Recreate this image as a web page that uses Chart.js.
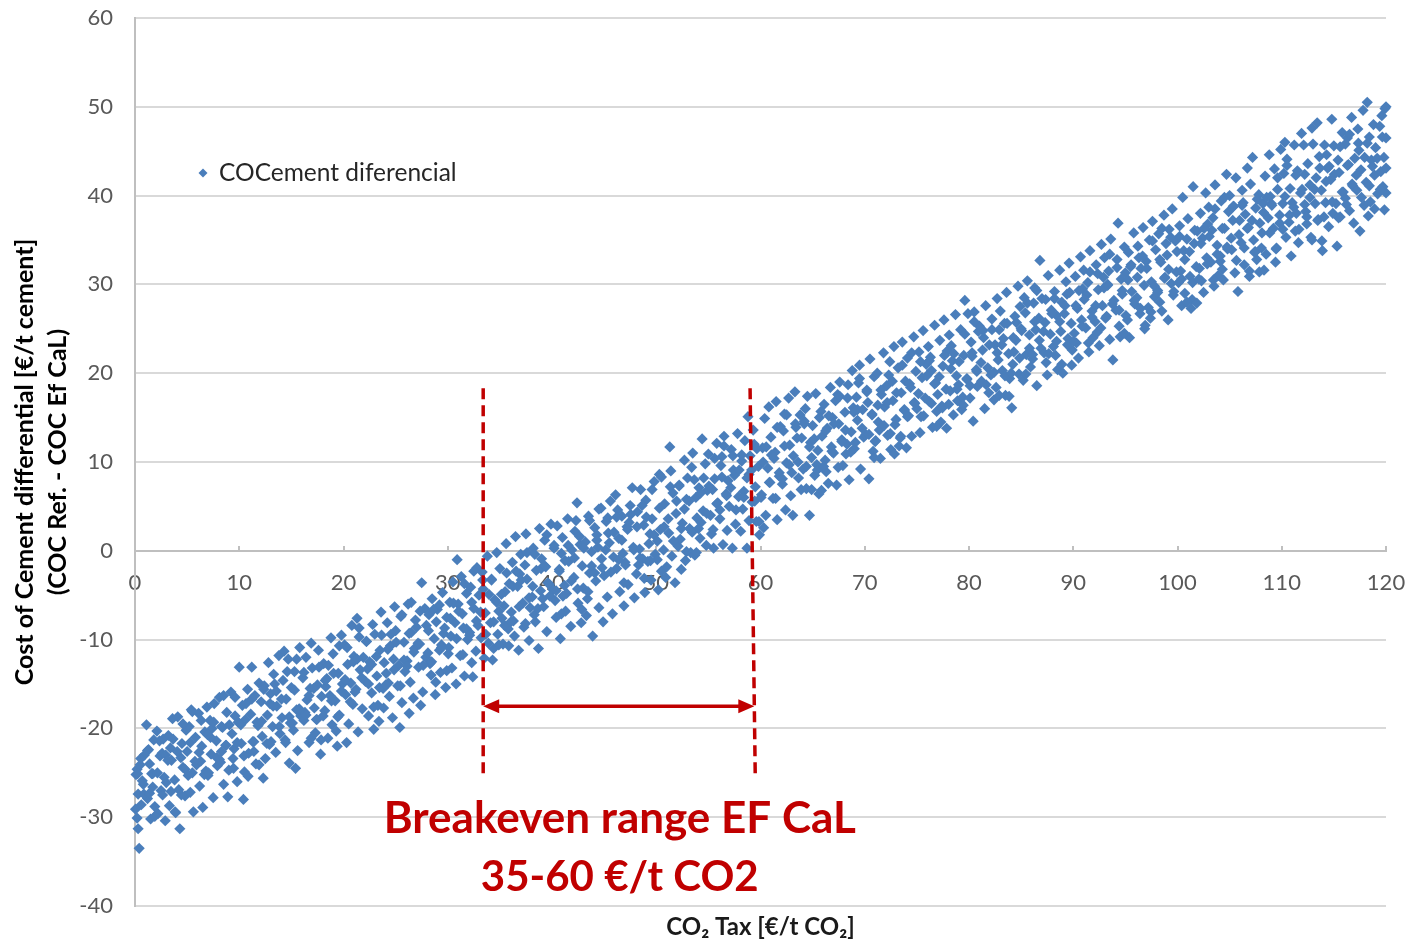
<!DOCTYPE html>
<html>
<head>
<meta charset="utf-8">
<script src="https://cdn.jsdelivr.net/npm/chart.js@4/dist/chart.umd.min.js"></script>
<style>
html,body{margin:0;padding:0;background:#fff;}
canvas{display:block;}
</style>
</head>
<body>
<canvas id="c" width="1405" height="942"></canvas>
<script>
// ---- tick labels / axis ranges ----
const xTickValues = [0,10,20,30,40,50,60,70,80,90,100,110,120];
const yTickValues = [-40,-30,-20,-10,0,10,20,30,40,50,60];
const seriesName = 'COCement diferencial';
const xTitle = 'CO\u2082 Tax [\u20AC/t CO\u2082]';
const yTitle = ['Cost of Cement differential [\u20AC/t cement]', '(COC Ref. - COC Ef CaL)'];
const noteLines = ['Breakeven range EF CaL', '35-60 \u20AC/t CO2'];

// ---- annotation values (data units) ----
const rangeLeftX = [33.4, 33.4];     // top, bottom
const rangeRightX = [59.0, 59.5];    // top, bottom
const rangeLineY = [18.3, -25.7];    // top, bottom
const arrowY = -17.5;
const noteCenterX = 46.5;
const noteBaselineY = [-31.8, -38.3];

// ---- scatter values [CO2 tax, cost differential] ----
const pts0to20 = [
[0.1,-25.2],[0.2,-30.1],[0.3,-27.4],[0.4,-33.5],[0.5,-24.1],[0.6,-28.6],[0.8,-26.3],[0.9,-23.0],[0.3,-31.3],[0.7,-25.9],[0.2,-24.6],
[1.1,-19.6],[1.2,-27.9],[1.3,-22.4],[1.5,-30.2],[1.6,-25.1],[1.8,-21.3],[1.9,-28.8],[1.4,-24.0],[1.7,-26.6],
[2.1,-20.3],[2.2,-29.6],[2.4,-23.1],[2.5,-27.0],[2.7,-21.2],[2.8,-25.5],[2.9,-30.4],[2.6,-22.8],
[3.0,-26.1],[3.2,-20.8],[3.3,-28.7],[3.5,-23.6],[3.6,-18.9],[3.8,-25.8],[3.9,-29.5],[3.4,-22.2],
[4.1,-18.7],[4.2,-26.9],[4.3,-31.3],[4.5,-21.7],[4.6,-24.4],[4.8,-27.6],[4.9,-20.2],[4.4,-23.3],
[5.0,-22.6],[5.2,-19.8],[5.3,-27.2],[5.5,-25.0],[5.6,-29.4],[5.8,-21.0],[5.9,-24.1],[5.4,-17.9],
[6.1,-18.3],[6.2,-26.5],[6.4,-22.0],[6.5,-28.9],[6.7,-20.4],[6.8,-24.8],[6.9,-17.6],[6.3,-23.7],
[7.0,-25.3],[7.2,-19.1],[7.3,-22.9],[7.5,-27.8],[7.6,-17.2],[7.8,-21.4],[7.9,-24.2],[7.4,-20.0],
[8.1,-16.5],[8.2,-23.8],[8.4,-19.9],[8.5,-26.3],[8.7,-21.9],[8.8,-18.2],[8.9,-27.7],[8.3,-22.6],
[9.0,-24.7],[9.2,-15.9],[9.3,-20.6],[9.5,-22.3],[9.6,-18.6],[9.8,-26.0],[9.9,-19.3],[9.4,-23.4],
[10.0,-13.1],[10.2,-21.7],[10.3,-17.4],[10.5,-24.9],[10.6,-19.0],[10.8,-15.6],[10.9,-22.8],[10.4,-28.0],
[11.2,-13.1],[11.1,-18.4],[11.3,-21.5],[11.5,-16.3],[11.6,-24.0],[11.8,-19.7],[11.9,-14.9],[11.4,-22.6],
[12.1,-17.0],[12.2,-20.9],[12.4,-15.2],[12.5,-23.4],[12.7,-18.5],[12.8,-12.6],[12.9,-21.8],[12.3,-25.6],
[13.0,-16.1],[13.2,-19.8],[13.3,-13.9],[13.5,-22.7],[13.6,-17.5],[13.8,-11.8],[13.9,-20.6],[13.4,-15.0],
[14.1,-18.8],[14.2,-14.6],[14.4,-21.3],[14.5,-16.7],[14.7,-12.2],[14.8,-23.9],[14.9,-19.4],[14.3,-11.3],
[15.0,-15.4],[15.2,-20.2],[15.3,-13.6],[15.5,-17.9],[15.6,-22.5],[15.8,-10.9],[15.9,-18.6],[15.4,-24.5],
[16.1,-14.3],[16.2,-19.1],[16.4,-12.0],[16.5,-16.8],[16.7,-21.6],[16.8,-15.5],[16.9,-10.4],[16.3,-18.2],
[17.0,-13.2],[17.2,-17.7],[17.3,-20.5],[17.5,-15.1],[17.6,-11.2],[17.8,-22.9],[17.9,-16.4],[17.4,-19.0],
[18.1,-12.7],[18.2,-18.0],[18.4,-14.4],[18.5,-21.1],[18.7,-16.3],[18.8,-9.8],[18.9,-19.6],[18.3,-15.3],
[19.0,-11.6],[19.2,-16.9],[19.3,-20.3],[19.5,-13.8],[19.6,-18.5],[19.8,-9.5],[19.9,-15.0],[19.4,-22.0],
[0.05,-29.1],[0.25,-25.1],[0.55,-23.4],[0.85,-27.4],[1.2,-22.5],[1.4,-27.3],[1.7,-25.1],[1.9,-29.9],
[2.15,-25.0],[2.35,-21.4],[2.65,-27.5],[2.95,-23.0],[3.15,-23.6],[3.45,-27.1],[3.65,-21.2],[3.85,-29.4],
[4.05,-22.6],[4.45,-27.5],[4.6,-19.5],[4.8,-24.6],[5.1,-25.3],[5.3,-21.6],[5.5,-18.1],[5.75,-23.7],
[6.15,-22.7],[6.35,-19.1],[6.65,-25.2],[6.95,-20.7],[7.05,-25.0],[7.25,-21.0],[7.55,-19.3],[7.85,-23.3],
[8.1,-23.5],[8.3,-19.8],[8.5,-16.3],[8.75,-21.9],[9.05,-19.6],[9.45,-24.5],[9.6,-16.5],[9.8,-21.6],
[10.15,-19.6],[10.45,-23.1],[10.65,-17.2],[10.85,-25.4],[11.2,-16.7],[11.4,-21.5],[11.7,-19.3],[11.9,-24.1],
[12.15,-19.2],[12.35,-15.6],[12.65,-21.7],[12.95,-17.2],[13.05,-21.5],[13.25,-17.5],[13.55,-15.8],[13.85,-19.8],
[14.05,-16.7],[14.45,-21.6],[14.6,-13.6],[14.8,-18.7],[15.1,-19.4],[15.3,-15.7],[15.5,-12.2],[15.75,-17.8],
[16.2,-13.7],[16.4,-18.5],[16.7,-16.3],[16.9,-21.1],[17.15,-15.5],[17.45,-19.0],[17.65,-13.1],[17.85,-21.3],
[18.05,-18.6],[18.25,-14.6],[18.55,-12.9],[18.85,-16.9],[19.05,-13.8],[19.45,-18.7],[19.6,-10.7],[19.8,-15.8]
];
const pts20to40 = [
[20.1,-10.6],[20.2,-16.2],[20.4,-12.8],[20.5,-19.5],[20.7,-14.9],[20.8,-8.4],[20.9,-17.3],[20.3,-21.6],
[21.0,-11.9],[21.2,-15.6],[21.4,-20.4],[21.5,-9.7],[21.6,-13.4],[21.8,-17.8],[21.9,-12.0],[21.3,-7.6],
[22.1,-14.7],[22.2,-10.2],[22.4,-18.6],[22.5,-12.5],[22.7,-16.0],[22.8,-8.3],[22.9,-20.1],[22.3,-13.3],
[23.0,-9.4],[23.2,-14.1],[23.3,-17.4],[23.5,-11.2],[23.6,-6.9],[23.8,-15.5],[23.9,-12.6],[23.4,-19.2],
[24.1,-13.8],[24.2,-8.1],[24.4,-16.4],[24.5,-10.7],[24.7,-18.8],[24.8,-12.2],[24.9,-6.3],[24.3,-14.9],
[25.0,-9.0],[25.2,-15.2],[25.3,-12.9],[25.5,-7.4],[25.6,-17.1],[25.8,-10.3],[25.9,-13.6],[25.4,-19.9],
[26.1,-12.4],[26.2,-6.0],[26.4,-14.8],[26.5,-9.2],[26.7,-16.6],[26.8,-11.0],[26.9,-7.8],[26.3,-18.3],
[27.0,-8.6],[27.2,-13.1],[27.5,-3.6],[27.6,-15.9],[27.3,-10.5],[27.8,-6.5],[27.9,-12.0],[27.4,-17.4],
[28.1,-11.5],[28.2,-7.2],[28.4,-14.0],[28.5,-5.4],[28.7,-9.9],[28.8,-16.2],[28.9,-8.0],[28.3,-12.7],
[29.0,-6.6],[29.2,-11.2],[29.3,-13.7],[29.5,-4.7],[29.6,-9.3],[29.8,-15.4],[29.9,-7.5],[29.4,-10.6],
[30.1,-10.9],[30.2,-5.8],[30.4,-13.2],[30.5,-3.5],[30.7,-8.1],[30.9,-1.0],[30.8,-15.0],[30.3,-9.6],
[31.0,-6.0],[31.2,-11.8],[31.3,-2.9],[31.5,-8.7],[31.6,-14.1],[31.8,-4.8],[31.9,-10.0],[31.4,-7.1],
[32.1,-9.2],[32.2,-4.1],[32.4,-14.2],[32.5,-6.5],[32.7,-11.3],[32.8,-1.9],[32.9,-8.4],[32.3,-12.6],
[33.0,-5.0],[33.2,-9.8],[33.3,-2.4],[33.5,-12.1],[33.6,-7.0],[33.8,-0.6],[33.9,-10.4],[33.4,-4.3],
[34.1,-8.1],[34.2,-3.3],[34.4,-11.0],[34.5,-5.5],[34.7,-0.2],[34.8,-9.4],[34.9,-6.8],[34.3,-12.3],
[35.0,-2.0],[35.2,-7.6],[35.3,-10.5],[35.5,-4.6],[35.6,0.8],[35.8,-8.8],[35.9,-3.7],[35.4,-6.2],
[36.1,-6.9],[36.2,-1.3],[36.4,-9.6],[36.5,1.6],[36.7,-4.0],[36.8,-11.2],[36.9,-2.6],[36.3,-7.9],
[37.0,-0.4],[37.2,-5.9],[37.3,-8.6],[37.5,1.9],[37.6,-3.2],[37.8,-10.1],[37.9,-6.4],[37.4,-1.6],
[38.1,-5.2],[38.2,0.3],[38.4,-8.0],[38.5,-2.2],[38.7,-11.0],[38.8,2.5],[38.9,-4.5],[38.3,-7.2],
[39.0,-0.9],[39.2,-6.3],[39.3,1.2],[39.5,-9.1],[39.6,-3.6],[39.8,-5.1],[39.9,3.0],[39.4,-1.8],
[20.15,-14.5],[20.35,-10.9],[20.65,-17.0],[20.95,-12.5],[21.1,-15.9],[21.3,-12.2],[21.5,-8.7],[21.75,-14.3],
[22.2,-10.2],[22.4,-15.0],[22.7,-12.8],[22.9,-17.6],[23.15,-11.9],[23.45,-15.4],[23.65,-9.5],[23.85,-17.7],
[24.05,-15.1],[24.25,-11.1],[24.55,-9.4],[24.85,-13.4],[25.05,-10.3],[25.45,-15.2],[25.6,-7.2],[25.8,-12.3],
[26.1,-13.0],[26.3,-9.3],[26.5,-5.8],[26.75,-11.4],[27.15,-10.4],[27.35,-6.8],[27.65,-12.9],[27.95,-8.4],
[28.15,-9.0],[28.45,-12.5],[28.65,-6.6],[28.85,-14.8],[29.2,-6.1],[29.4,-10.9],[29.7,-8.7],[29.9,-13.5],
[30.05,-11.6],[30.25,-7.6],[30.55,-5.9],[30.85,-9.9],[31.05,-6.8],[31.45,-11.7],[31.6,-3.7],[31.8,-8.8],
[32.1,-9.5],[32.3,-5.8],[32.5,-2.3],[32.75,-7.9],[33.15,-6.9],[33.35,-3.3],[33.65,-9.4],[33.95,-4.9],
[34.2,-3.2],[34.4,-8.0],[34.7,-5.8],[34.9,-10.6],[35.15,-4.9],[35.45,-8.4],[35.65,-2.5],[35.85,-10.7],
[36.05,-8.0],[36.25,-4.0],[36.55,-2.3],[36.85,-6.3],[37.05,-3.3],[37.45,-8.2],[37.6,-0.2],[37.8,-5.3],
[38.15,-4.0],[38.35,-0.4],[38.65,-6.5],[38.95,-2.0],[39.1,-5.4],[39.3,-1.7],[39.5,1.8],[39.75,-3.8]
];
const pts40to60 = [
[40.1,-4.4],[40.2,0.6],[40.4,-7.5],[40.5,2.8],[40.7,-2.1],[40.8,-9.9],[40.9,-0.3],[40.3,-5.6],
[41.0,1.5],[41.2,-3.9],[41.3,-6.8],[41.5,3.6],[41.6,-1.2],[41.8,-8.5],[41.9,0.1],[41.4,-4.8],
[42.1,-3.0],[42.2,2.2],[42.4,5.4],[42.5,-5.9],[42.7,0.7],[42.8,-8.1],[42.9,-1.7],[42.3,3.4],
[43.0,-4.2],[43.2,1.0],[43.3,-7.3],[43.5,3.9],[43.6,-2.5],[43.8,-0.1],[43.9,-9.6],[43.4,-5.4],
[44.1,2.6],[44.2,-3.4],[44.4,0.4],[44.5,-6.4],[44.7,4.8],[44.8,-1.9],[44.9,-8.0],[44.3,1.8],
[45.0,-2.8],[45.2,3.3],[45.3,-5.2],[45.5,0.9],[45.6,5.6],[45.8,-7.1],[45.9,-0.7],[45.4,2.0],
[46.1,6.3],[46.2,-2.0],[46.4,1.4],[46.5,-4.6],[46.7,3.9],[46.8,-0.3],[46.9,-6.2],[46.3,4.6],
[47.0,-1.3],[47.2,2.7],[47.3,-3.8],[47.5,5.1],[47.7,7.1],[47.8,0.4],[47.9,-5.3],[47.4,3.2],
[48.1,-2.6],[48.2,4.4],[48.4,0.2],[48.5,6.9],[48.7,-0.9],[48.8,2.9],[48.9,-4.7],[48.3,-1.6],
[49.0,5.7],[49.2,-1.2],[49.3,0.8],[49.5,-3.3],[49.6,3.6],[49.8,7.8],[49.9,-0.4],[49.4,1.9],
[50.1,-1.0],[50.2,-4.4],[50.4,2.4],[50.5,-2.3],[50.7,0.1],[50.8,5.3],[50.9,-3.0],[50.3,8.6],
[51.0,-1.8],[51.3,11.7],[51.2,2.0],[51.5,-0.6],[51.6,6.5],[51.8,-3.6],[51.9,4.2],[51.4,9.0],
[52.1,0.5],[52.2,7.4],[52.4,-2.1],[52.5,3.1],[52.7,10.2],[52.8,-1.1],[52.9,5.8],[52.3,1.3],
[53.0,8.2],[53.2,2.5],[53.3,-0.2],[53.5,11.0],[53.7,-0.5],[53.8,6.0],[53.9,3.7],[53.4,9.4],
[54.1,7.1],[54.2,1.4],[54.4,12.6],[54.5,4.5],[54.7,9.8],[54.8,0.6],[54.9,6.8],[54.3,3.2],
[55.0,10.9],[55.2,4.0],[55.3,1.9],[55.5,0.3],[55.6,8.1],[55.8,12.1],[55.9,5.4],[55.4,6.9],
[56.1,3.6],[56.2,9.6],[56.4,0.7],[56.5,12.9],[56.7,6.4],[56.8,2.3],[56.9,7.9],[56.3,10.6],
[57.0,5.0],[57.2,11.4],[57.3,0.3],[57.5,8.5],[57.6,3.0],[57.8,13.2],[57.9,6.1],[57.4,9.1],
[58.1,2.2],[58.2,10.1],[58.4,6.7],[58.5,12.4],[58.7,0.3],[58.8,15.1],[58.9,8.6],[58.3,4.7],
[59.0,10.7],[59.2,5.5],[59.3,13.6],[59.5,7.2],[59.6,3.3],[59.8,9.5],[59.9,1.8],[59.4,12.0],
[40.2,0.3],[40.4,-4.5],[40.7,-2.3],[40.9,-7.1],[41.05,-5.1],[41.25,-1.1],[41.55,0.6],[41.85,-3.4],
[42.15,-0.8],[42.45,-4.3],[42.65,1.6],[42.85,-6.6],[43.05,0.3],[43.45,-4.6],[43.6,3.4],[43.8,-1.7],
[44.1,-2.5],[44.3,1.2],[44.5,4.7],[44.75,-0.9],[45.15,0.1],[45.35,3.7],[45.65,-2.4],[45.95,2.1],
[46.2,3.8],[46.4,-1.0],[46.7,1.2],[46.9,-3.6],[47.05,-1.6],[47.25,2.4],[47.55,4.1],[47.85,0.1],
[48.15,2.7],[48.45,-0.8],[48.65,5.1],[48.85,-3.1],[49.05,3.8],[49.45,-1.1],[49.6,6.9],[49.8,1.8],
[50.1,1.1],[50.3,4.8],[50.5,8.3],[50.75,2.7],[51.15,3.6],[51.35,7.2],[51.65,1.1],[51.95,5.6],
[52.2,7.3],[52.4,2.5],[52.7,4.7],[52.9,-0.1],[53.15,5.6],[53.45,2.1],[53.65,8.0],[53.85,-0.2],
[54.05,2.5],[54.25,6.5],[54.55,8.2],[54.85,4.2],[55.05,7.3],[55.45,2.4],[55.6,10.4],[55.8,5.3],
[56.1,4.6],[56.3,8.3],[56.5,11.8],[56.75,6.2],[57.15,7.1],[57.35,10.7],[57.65,4.6],[57.95,9.1],
[58.2,10.8],[58.4,6.0],[58.7,8.2],[58.9,3.4],[59.15,9.1],[59.45,5.6],[59.65,11.5],[59.85,3.3]
];
const pts60to80 = [
[60.1,6.3],[60.2,11.6],[60.4,14.9],[60.5,4.0],[60.7,9.3],[60.8,16.2],[60.9,7.7],[60.3,2.6],
[61.0,12.8],[61.2,5.9],[61.3,10.4],[61.5,16.8],[61.6,3.5],[61.8,8.4],[61.9,14.0],[61.4,11.1],
[62.1,7.5],[62.2,13.5],[62.4,4.6],[62.5,9.9],[62.7,17.2],[62.8,11.9],[62.9,6.2],[62.3,15.4],
[63.1,4.0],[63.3,17.9],[63.0,8.8],[63.5,12.7],[63.6,10.0],[63.8,15.3],[63.9,6.9],[63.4,13.9],
[64.1,9.2],[64.2,14.6],[64.4,7.0],[64.5,17.4],[64.7,4.0],[64.8,12.2],[64.9,10.5],[64.3,16.0],
[65.0,14.1],[65.2,8.5],[65.3,17.7],[65.5,11.3],[65.6,6.4],[65.8,15.7],[65.9,12.9],[65.4,9.7],
[66.1,16.5],[66.2,10.2],[66.4,13.8],[66.5,7.6],[66.7,18.4],[66.8,11.7],[66.9,15.0],[66.3,8.9],
[67.0,11.0],[67.2,16.9],[67.3,7.4],[67.5,14.3],[67.6,19.0],[67.8,12.5],[67.9,9.6],[67.4,17.6],
[68.1,15.6],[68.2,10.9],[68.4,18.7],[68.5,8.0],[68.7,13.4],[68.8,20.3],[68.9,16.1],[68.3,12.0],
[69.0,11.5],[69.2,17.3],[69.3,14.7],[69.5,20.9],[69.6,9.2],[69.8,15.9],[69.9,12.8],[69.4,18.9],
[70.1,13.1],[70.2,18.1],[70.4,8.1],[70.5,21.6],[70.7,15.4],[70.8,11.2],[70.9,19.6],[70.3,16.7],
[71.0,12.3],[71.2,20.0],[71.3,14.5],[71.5,10.4],[71.6,17.6],[71.8,22.3],[71.9,16.2],[71.4,13.6],
[72.1,18.6],[72.2,13.0],[72.4,21.3],[72.5,11.4],[72.7,16.9],[72.8,23.0],[72.9,14.2],[72.3,19.8],
[73.0,14.8],[73.2,20.6],[73.3,11.8],[73.5,17.8],[73.6,23.5],[73.8,15.9],[73.9,19.1],[73.4,12.7],
[74.1,21.7],[74.2,15.2],[74.4,18.4],[74.5,12.9],[74.7,24.1],[74.8,16.6],[74.9,20.2],[74.0,11.6],
[75.0,16.0],[75.2,22.4],[75.3,13.3],[75.5,19.5],[75.6,24.8],[75.8,17.2],[75.9,21.0],[75.4,15.1],
[76.1,23.0],[76.2,16.8],[76.4,20.3],[76.5,13.9],[76.7,25.4],[76.8,18.9],[76.9,15.7],[76.3,21.8],
[77.0,17.6],[77.2,23.7],[77.3,14.5],[77.5,20.8],[77.6,26.0],[77.8,18.2],[77.9,22.5],[77.4,16.3],
[78.1,24.3],[78.2,18.0],[78.4,21.4],[78.5,15.3],[78.7,26.6],[78.8,19.7],[78.9,16.9],[78.3,23.1],
[79.0,18.7],[79.2,24.9],[79.3,15.9],[79.6,28.2],[79.5,22.0],[79.8,19.4],[79.9,26.7],[79.4,17.3],
[60.05,6.0],[60.25,10.0],[60.55,11.7],[60.85,7.7],[61.05,10.8],[61.45,5.9],[61.6,13.9],[61.8,8.8],
[62.1,8.1],[62.3,11.8],[62.5,15.3],[62.75,9.7],[63.15,10.7],[63.35,14.3],[63.65,8.2],[63.95,12.7],
[64.2,14.3],[64.4,9.5],[64.7,11.7],[64.9,6.9],[65.15,12.6],[65.45,9.1],[65.65,15.0],[65.85,6.8],
[66.05,9.5],[66.25,13.5],[66.55,15.2],[66.85,11.2],[67.05,14.3],[67.45,9.4],[67.6,17.4],[67.8,12.3],
[68.15,13.6],[68.35,17.2],[68.65,11.1],[68.95,15.6],[69.1,12.2],[69.3,15.9],[69.5,19.4],[69.75,13.8],
[70.2,17.9],[70.4,13.1],[70.7,15.3],[70.9,10.5],[71.05,12.4],[71.25,16.4],[71.55,18.1],[71.85,14.1],
[72.15,16.7],[72.45,13.2],[72.65,19.1],[72.85,10.9],[73.05,17.8],[73.45,12.9],[73.6,20.9],[73.8,15.8],
[74.1,15.1],[74.3,18.8],[74.5,22.3],[74.75,16.7],[75.15,17.7],[75.35,21.3],[75.65,15.2],[75.95,19.7],
[76.2,21.4],[76.4,16.6],[76.7,18.8],[76.9,14.0],[77.15,19.6],[77.45,16.1],[77.65,22.0],[77.85,13.8],
[78.05,16.5],[78.25,20.5],[78.55,22.2],[78.85,18.2],[79.05,21.3],[79.45,16.4],[79.6,24.4],[79.8,19.3]
];
const pts80to100 = [
[80.1,17.2],[80.2,23.5],[80.4,14.6],[80.5,26.9],[80.7,20.4],[80.8,18.5],[80.9,24.7],[80.3,21.9],
[81.0,25.3],[81.2,19.1],[81.3,22.6],[81.5,16.0],[81.6,27.6],[81.8,20.6],[81.9,17.8],[81.4,24.0],
[82.1,19.8],[82.2,26.1],[82.4,17.0],[82.5,23.2],[82.7,28.4],[82.8,21.5],[82.9,24.9],[82.6,18.4],
[83.0,27.0],[83.2,20.3],[83.3,23.9],[83.5,17.5],[83.6,29.1],[83.8,22.2],[83.9,19.4],[83.4,25.6],
[84.1,16.1],[84.2,21.0],[84.4,26.4],[84.5,23.7],[84.7,29.8],[84.8,19.9],[84.9,27.5],[84.3,22.4],
[85.0,25.0],[85.2,19.2],[85.3,28.5],[85.5,22.1],[85.6,30.4],[85.8,24.3],[85.9,20.7],[85.4,26.8],
[86.1,21.6],[86.2,27.9],[86.4,24.9],[86.5,18.6],[86.8,32.7],[86.7,26.2],[86.9,22.8],[86.3,29.6],
[87.0,28.4],[87.2,22.3],[87.3,25.7],[87.5,19.8],[87.6,31.0],[87.8,24.4],[87.9,27.1],[87.4,21.2],
[88.1,23.0],[88.2,29.2],[88.4,26.5],[88.5,20.4],[88.7,31.6],[88.8,24.7],[88.9,28.0],[88.3,22.0],
[89.0,20.0],[89.2,27.6],[89.3,30.3],[89.5,23.9],[89.6,32.4],[89.8,25.6],[89.9,22.6],[89.4,28.9],
[90.1,24.5],[90.2,30.9],[90.4,27.3],[90.5,21.7],[90.7,33.1],[90.8,26.0],[90.9,29.5],[90.3,23.4],
[91.0,31.6],[91.2,25.1],[91.3,28.8],[91.5,22.4],[91.6,33.8],[91.8,27.0],[91.9,24.0],[91.4,30.2],
[92.1,25.8],[92.2,32.2],[92.4,29.4],[92.5,23.1],[92.7,34.5],[92.8,27.6],[92.9,30.8],[92.3,24.6],
[93.0,33.0],[93.2,26.4],[93.3,30.0],[93.5,23.8],[93.8,21.5],[93.6,35.1],[93.9,28.2],[93.4,31.5],
[94.1,27.1],[94.3,36.9],[94.2,32.8],[94.4,25.3],[94.6,30.6],[94.7,28.9],[94.9,34.2],[94.5,24.1],
[95.0,31.3],[95.2,26.0],[95.4,24.0],[95.3,33.6],[95.6,29.2],[95.8,35.8],[95.9,27.8],[95.5,32.0],
[96.1,28.5],[96.2,34.3],[96.4,26.7],[96.5,31.8],[96.7,36.4],[96.8,29.9],[96.9,25.4],[96.3,33.0],
[97.0,32.6],[97.2,27.4],[97.3,35.0],[97.5,30.3],[97.6,37.1],[97.8,28.6],[97.9,33.9],[97.4,26.2],
[98.1,29.3],[98.2,35.7],[98.4,32.5],[98.5,27.0],[98.7,37.8],[98.8,30.8],[98.9,34.6],[98.3,28.0],
[99.1,26.0],[99.0,33.3],[99.2,36.2],[99.4,30.1],[99.5,38.5],[99.6,28.8],[99.8,34.9],[99.9,31.4],
[80.1,18.6],[80.3,22.3],[80.5,25.8],[80.75,20.2],[81.15,21.2],[81.35,24.8],[81.65,18.7],[81.95,23.2],
[82.2,24.9],[82.4,20.1],[82.7,22.3],[82.9,17.5],[83.15,23.2],[83.45,19.7],[83.65,25.6],[83.85,17.4],
[84.05,20.0],[84.25,24.0],[84.55,25.7],[84.85,21.7],[85.05,24.8],[85.45,19.9],[85.6,27.9],[85.8,22.8],
[86.1,22.1],[86.3,25.8],[86.5,29.3],[86.75,23.7],[87.15,24.7],[87.35,28.3],[87.65,22.2],[87.95,26.7],
[88.2,28.4],[88.4,23.6],[88.7,25.8],[88.9,21.0],[89.15,26.7],[89.45,23.2],[89.65,29.1],[89.85,20.9],
[90.05,23.6],[90.25,27.6],[90.55,29.3],[90.85,25.3],[91.05,28.3],[91.45,23.4],[91.6,31.4],[91.8,26.3],
[92.15,27.6],[92.35,31.2],[92.65,25.1],[92.95,29.6],[93.1,26.2],[93.3,29.9],[93.5,33.4],[93.75,27.8],
[94.2,31.9],[94.4,27.1],[94.7,29.3],[94.9,24.5],[95.05,26.5],[95.25,30.5],[95.55,32.2],[95.85,28.2],
[96.15,30.8],[96.45,27.3],[96.65,33.2],[96.85,25.0],[97.05,31.8],[97.45,26.9],[97.6,34.9],[97.8,29.8],
[98.1,29.1],[98.3,32.8],[98.5,36.3],[98.75,30.7],[99.15,31.7],[99.35,35.3],[99.65,29.2],[99.95,33.7]
];
const pts100to120 = [
[100.1,30.2],[100.2,36.6],[100.5,39.8],[100.4,27.6],[100.6,33.8],[100.7,29.0],[100.9,35.1],[100.3,31.5],
[101.0,37.4],[101.2,30.9],[101.5,41.0],[101.4,28.3],[101.6,34.6],[101.8,32.0],[101.9,36.0],[101.3,27.3],
[102.1,31.8],[102.2,38.0],[102.4,35.2],[102.5,29.1],[102.7,40.3],[102.8,33.0],[102.9,36.8],[102.3,30.4],
[103.0,38.7],[103.2,32.5],[103.3,36.1],[103.5,29.8],[103.6,41.2],[103.8,34.4],[103.9,31.0],[103.4,37.5],
[104.1,33.2],[104.2,39.4],[104.4,30.5],[104.7,42.4],[104.5,36.3],[104.8,34.0],[104.9,38.2],[104.3,31.7],
[105.0,40.0],[105.2,33.9],[105.3,37.2],[105.5,31.3],[105.8,29.2],[105.6,42.0],[105.9,35.6],[105.4,38.8],
[106.1,34.7],[106.2,40.6],[106.4,32.2],[106.5,37.9],[106.7,43.1],[106.8,36.4],[106.9,30.9],[106.3,39.2],
[107.0,41.3],[107.2,44.3],[107.3,35.0],[107.5,38.6],[107.6,32.8],[107.8,40.1],[107.9,36.9],[107.4,33.6],
[108.1,35.8],[108.2,39.1],[108.4,42.2],[108.5,33.4],[108.7,37.5],[108.8,44.6],[108.9,39.9],[108.3,31.6],
[109.0,39.1],[109.2,36.3],[109.3,43.0],[109.5,34.1],[109.6,40.7],[109.8,37.8],[109.9,45.2],[109.4,32.5],
[110.1,39.1],[110.2,42.5],[110.4,35.3],[110.5,44.1],[110.7,37.0],[110.8,40.8],[110.9,33.2],[110.3,46.0],
[111.0,39.2],[111.2,45.7],[111.3,36.0],[111.5,42.8],[111.6,34.7],[111.8,40.3],[111.9,47.0],[111.4,38.0],
[112.1,45.7],[112.2,39.0],[112.4,36.8],[112.5,43.6],[112.7,41.2],[112.8,35.3],[112.9,47.6],[112.3,38.2],
[113.0,45.8],[113.2,39.1],[113.3,42.0],[113.5,37.3],[113.9,33.8],[113.6,44.4],[113.8,40.6],[113.4,48.2],
[114.1,45.7],[114.2,39.2],[114.4,43.1],[114.5,36.5],[114.7,41.8],[114.8,48.6],[114.9,38.0],[114.3,44.6],
[115.0,45.6],[115.3,34.3],[115.2,39.1],[115.5,42.6],[115.6,37.6],[115.8,47.1],[115.9,40.4],[115.4,44.0],
[116.1,45.8],[116.2,39.0],[116.4,43.5],[116.5,38.3],[116.7,48.8],[116.8,41.1],[116.9,36.9],[116.3,46.5],
[117.0,44.2],[117.5,36.0],[117.2,40.6],[117.3,47.5],[117.6,42.9],[117.8,49.6],[117.9,38.9],[117.4,45.1],
[118.2,50.5],[118.1,41.5],[118.4,46.6],[118.5,39.3],[118.6,44.0],[118.8,48.0],[118.9,42.3],[118.3,37.7],
[119.0,45.4],[119.2,40.2],[119.4,47.8],[119.5,42.7],[119.6,49.0],[119.8,44.3],[119.9,49.8],[119.7,41.0],
[120.0,40.3],[120.0,43.1],[120.0,46.5],[120.0,50.0],
[100.2,35.4],[100.4,30.6],[100.7,32.8],[100.9,28.0],[101.15,33.7],[101.45,30.2],[101.65,36.1],[101.85,27.9],
[102.05,30.6],[102.25,34.6],[102.55,36.3],[102.85,32.3],[103.05,35.4],[103.45,30.5],[103.6,38.5],[103.8,33.4],
[104.1,32.6],[104.3,36.3],[104.5,39.8],[104.75,34.2],[105.15,35.2],[105.35,38.8],[105.65,32.7],[105.95,37.2],
[106.2,38.9],[106.4,34.1],[106.7,36.3],[106.9,31.5],[107.15,37.2],[107.45,33.7],[107.65,39.6],[107.85,31.4],
[108.05,34.1],[108.25,38.1],[108.55,39.8],[108.85,35.8],[109.05,38.9],[109.45,34.0],[109.6,42.0],[109.8,36.9],
[110.1,36.2],[110.3,39.9],[110.5,43.4],[110.75,37.8],[111.15,38.7],[111.35,42.3],[111.65,36.2],[111.95,40.7],
[112.2,42.4],[112.4,37.6],[112.7,39.8],[112.9,35.0],[113.15,40.7],[113.45,37.2],[113.65,43.1],[113.85,34.9],
[114.05,37.6],[114.25,41.6],[114.55,43.3],[114.85,39.3],[115.05,42.4],[115.45,37.5],[115.6,45.5],[115.8,40.4],
[116.1,39.7],[116.3,43.4],[116.5,46.9],[116.75,41.3],[117.15,42.3],[117.35,45.9],[117.65,39.8],[117.95,44.3],
[118.2,45.9],[118.4,41.1],[118.7,43.3],[118.9,38.5],[119.15,44.2],[119.45,40.7],[119.65,46.6],[119.85,38.4]
];

// ---- styles ----
const BLUE = '#4a7ebb';
const RED = '#c00000';
const GRID = '#d9d9d9';
const AXIS = '#bfbfbf';
const TICK_TXT = '#595959';
const FONT = 'Lato, "Open Sans", sans-serif';
Chart.defaults.font.family = FONT;

const points = [].concat(pts0to20, pts20to40, pts40to60, pts60to80, pts80to100, pts100to120)
  .map(([x, y]) => ({x, y}));

function noPad(s) { s.paddingLeft = 0; s.paddingRight = 0; s.paddingTop = 0; s.paddingBottom = 0; }

const overlay = {
  id: 'overlay',
  afterDatasetsDraw(chart) {
    const {ctx, chartArea, scales} = chart;
    const x = scales.x, y = scales.y;
    ctx.save();
    // dashed range lines
    ctx.strokeStyle = RED;
    ctx.lineWidth = 3.5;
    ctx.setLineDash([11, 6]);
    ctx.beginPath();
    ctx.moveTo(x.getPixelForValue(rangeLeftX[0]), y.getPixelForValue(rangeLineY[0]));
    ctx.lineTo(x.getPixelForValue(rangeLeftX[1]), y.getPixelForValue(rangeLineY[1]));
    ctx.moveTo(x.getPixelForValue(rangeRightX[0]), y.getPixelForValue(rangeLineY[0]));
    ctx.lineTo(x.getPixelForValue(rangeRightX[1]), y.getPixelForValue(rangeLineY[1]));
    ctx.stroke();
    // double arrow
    ctx.setLineDash([]);
    const ay = y.getPixelForValue(arrowY);
    const frac = (arrowY - rangeLineY[0]) / (rangeLineY[1] - rangeLineY[0]);
    const ax1 = x.getPixelForValue(rangeLeftX[0] + (rangeLeftX[1] - rangeLeftX[0]) * frac);
    const ax2 = x.getPixelForValue(rangeRightX[0] + (rangeRightX[1] - rangeRightX[0]) * frac);
    const hl = 16, hh = 7;
    ctx.lineWidth = 3.5;
    ctx.beginPath();
    ctx.moveTo(ax1 + hl - 2, ay);
    ctx.lineTo(ax2 - hl + 2, ay);
    ctx.stroke();
    ctx.fillStyle = RED;
    ctx.beginPath();
    ctx.moveTo(ax1, ay); ctx.lineTo(ax1 + hl, ay - hh); ctx.lineTo(ax1 + hl, ay + hh); ctx.closePath();
    ctx.moveTo(ax2, ay); ctx.lineTo(ax2 - hl, ay - hh); ctx.lineTo(ax2 - hl, ay + hh); ctx.closePath();
    ctx.fill();
    // note text
    ctx.font = 'bold 44px ' + FONT;
    ctx.textAlign = 'center';
    ctx.textBaseline = 'alphabetic';
    const nx = x.getPixelForValue(noteCenterX);
    ctx.fillText(noteLines[0], nx, y.getPixelForValue(noteBaselineY[0]));
    ctx.font = 'bold 42px ' + FONT;
    ctx.fillText(noteLines[1], nx, y.getPixelForValue(noteBaselineY[1]));
    // legend
    const lx = chartArea.left + 68, ly = chartArea.top + 155;
    ctx.fillStyle = BLUE;
    ctx.beginPath();
    ctx.moveTo(lx, ly - 4.5); ctx.lineTo(lx + 4.5, ly); ctx.lineTo(lx, ly + 4.5); ctx.lineTo(lx - 4.5, ly); ctx.closePath();
    ctx.fill();
    ctx.fillStyle = '#262626';
    ctx.font = '24.5px ' + FONT;
    ctx.textAlign = 'left';
    ctx.textBaseline = 'middle';
    ctx.fillText(seriesName, lx + 16, ly);
    ctx.restore();
  }
};

new Chart(document.getElementById('c'), {
  type: 'scatter',
  data: {
    datasets: [{
      label: seriesName,
      data: points,
      pointStyle: 'rectRot',
      pointRadius: 5.6,
      pointHoverRadius: 5.6,
      borderWidth: 0,
      backgroundColor: BLUE,
      borderColor: BLUE,
      clip: false
    }]
  },
  options: {
    responsive: false,
    animation: false,
    events: [],
    layout: { padding: { left: 0, right: 19, top: 18, bottom: 0 } },
    plugins: { legend: { display: false }, tooltip: { enabled: false } },
    scales: {
      x: {
        type: 'linear',
        position: { y: 0 },
        min: 0, max: 120,
        afterBuildTicks(s) { s.ticks = xTickValues.map(v => ({value: v})); },
        afterFit(s) { s.height = 0; noPad(s); },
        ticks: { color: TICK_TXT, font: { size: 22 }, padding: 25, autoSkip: false, maxRotation: 0 },
        grid: { drawOnChartArea: false, drawTicks: true, tickLength: -6, color: AXIS, lineWidth: 2 },
        border: { display: true, color: AXIS, width: 2 }
      },
      x2: {
        type: 'linear',
        position: 'bottom',
        min: 0, max: 120,
        afterFit(s) { s.height = 36; noPad(s); },
        ticks: { display: false },
        grid: { display: false },
        border: { display: false },
        title: { display: true, text: xTitle, color: '#1a1a1a', font: { size: 24, weight: 'bold' }, padding: { top: 0, bottom: 0 } }
      },
      y: {
        type: 'linear',
        position: 'left',
        min: -40, max: 60,
        afterBuildTicks(s) { s.ticks = yTickValues.map(v => ({value: v})); },
        afterFit(s) { s.width = 135; noPad(s); },
        ticks: { color: TICK_TXT, font: { size: 22 }, padding: 22 },
        grid: { color: GRID, lineWidth: 2, drawTicks: false },
        border: { display: true, color: AXIS, width: 2 },
        title: { display: true, text: yTitle, color: '#000', font: { size: 25, weight: 'bold', lineHeight: '33px' }, padding: { top: 8, bottom: 0 } }
      }
    }
  },
  plugins: [overlay]
});
</script>
</body>
</html>
